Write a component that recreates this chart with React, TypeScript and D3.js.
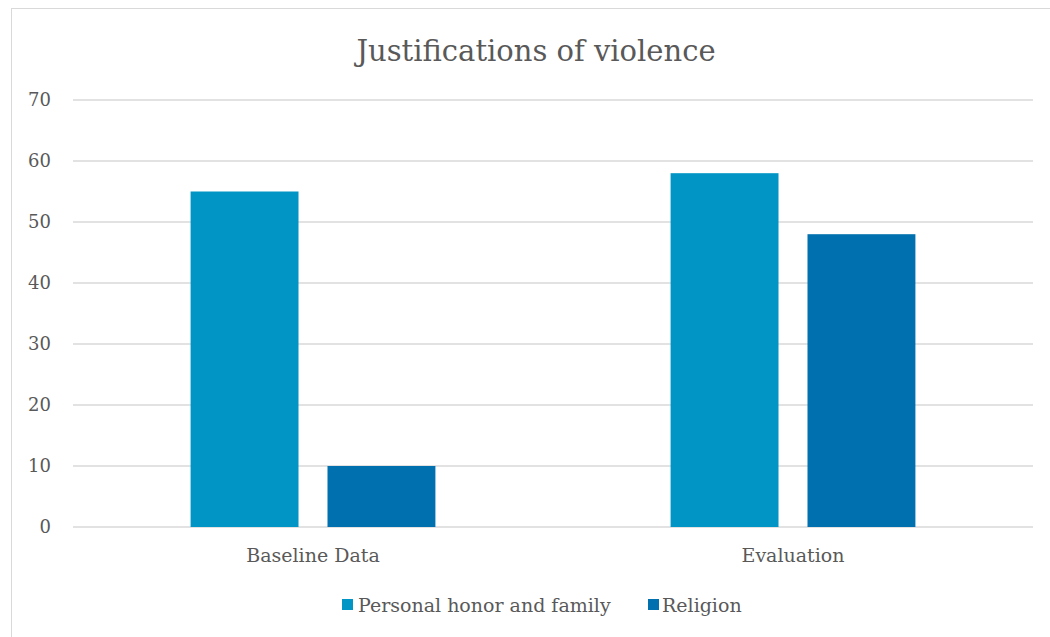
import React from "react";
import * as d3 from "d3";

const categories = ["Baseline Data", "Evaluation"];
const seriesNames = ["Personal honor and family", "Religion"];
const personalHonor = [55, 58];
const religion = [10, 48];
const yTicks = [0, 10, 20, 30, 40, 50, 60, 70];
const colors = ["#0095C4", "#0070AF"];

const W = 1050;
const H = 637;
const FONT = "'DejaVu Serif', serif";
const TEXT = "#595959";

export default function App() {
  const margin = { left: 73, right: 17, top: 100, bottom: 110 };
  const plotRight = W - margin.right;
  const plotBottom = H - margin.bottom;

  const x0 = d3.scaleBand<string>().domain(categories).range([margin.left, plotRight]).padding(0);
  const x1 = d3
    .scaleBand<string>()
    .domain(seriesNames)
    .range([0, x0.bandwidth()])
    .paddingInner(0.2117)
    .paddingOuter(0.859);
  const y = d3.scaleLinear().domain([0, 70]).range([plotBottom, margin.top]);

  const values = [personalHonor, religion];

  return (
    <svg width={W} height={H} style={{ position: "absolute", left: 0, top: 0, background: "#fff" }}>
      <rect x={0} y={0} width={W} height={H} fill="#fff" />
      {/* chart frame */}
      <rect x={11.5} y={8.5} width={W + 20} height={H + 20} fill="none" stroke="#D9D9D9" strokeWidth={1} />

      <text x={536} y={61} textAnchor="middle" fontFamily={FONT} fontSize={29} fill={TEXT}>
        Justifications of violence
      </text>

      {yTicks.map((t) => (
        <g key={t}>
          <line x1={margin.left} x2={plotRight} y1={y(t)} y2={y(t)} stroke="#D9D9D9" strokeWidth={1.3} />
          <text
            x={51}
            y={y(t)}
            dy="0.35em"
            textAnchor="end"
            fontFamily={FONT}
            fontSize={18}
            fill={TEXT}
          >
            {t}
          </text>
        </g>
      ))}

      {categories.map((c, ci) => (
        <g key={c} transform={`translate(${x0(c)},0)`}>
          {seriesNames.map((s, si) => (
            <rect
              key={s}
              x={x1(s)}
              y={y(values[si][ci])}
              width={x1.bandwidth()}
              height={y(0) - y(values[si][ci])}
              fill={colors[si]}
            />
          ))}
          <text
            x={x0.bandwidth() / 2}
            y={555}
            dy="0.35em"
            textAnchor="middle"
            fontFamily={FONT}
            fontSize={19}
            fill={TEXT}
          >
            {c}
          </text>
        </g>
      ))}

      {/* legend */}
      <g>
        <rect x={342} y={599} width={11} height={11} fill={colors[0]} />
        <text x={358} y={605} dy="0.35em" fontFamily={FONT} fontSize={19} fill={TEXT}>
          {seriesNames[0]}
        </text>
        <rect x={648} y={599} width={11} height={11} fill={colors[1]} />
        <text x={662} y={605} dy="0.35em" fontFamily={FONT} fontSize={19} fill={TEXT}>
          {seriesNames[1]}
        </text>
      </g>
    </svg>
  );
}
